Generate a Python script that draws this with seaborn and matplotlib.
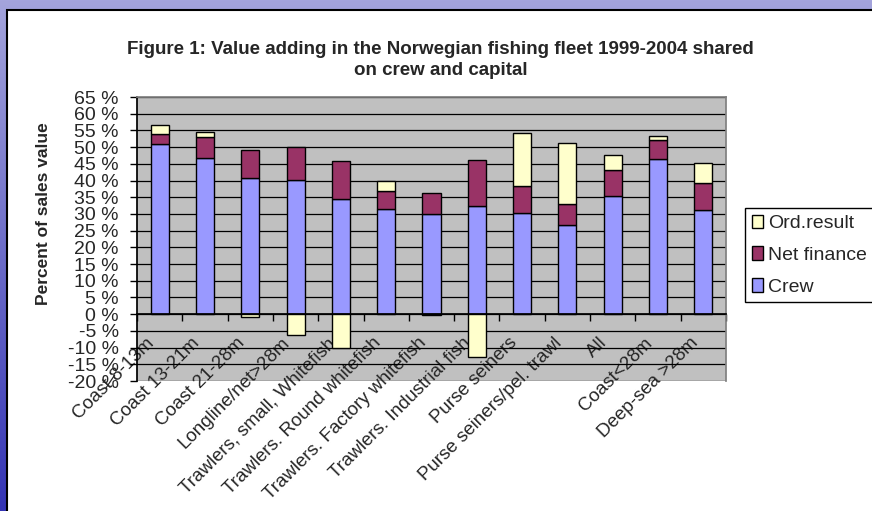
import numpy as np
import pandas as pd
import matplotlib
matplotlib.use("Agg")
import matplotlib.pyplot as plt
from matplotlib.patches import Rectangle, Patch
from matplotlib.colors import LinearSegmentedColormap
from matplotlib.transforms import ScaledTranslation
import seaborn as sns

categories = ["Coast 8-13m", "Coast 13-21m", "Coast 21-28m", "Longline/net>28m",
              "Trawlers, small, Whitefish", "Trawlers. Round whitefish",
              "Trawlers. Factory whitefish", "Trawlers. Industrial fish",
              "Purse seiners", "Purse seiners/pel. trawl", "All", "Coast<28m",
              "Deep-sea >28m"]
crew = [51.0, 46.6, 40.9, 40.1, 34.4, 31.6, 29.9, 32.4, 30.4, 26.6, 35.4, 46.4, 31.1]
net_finance = [3.0, 6.3, 8.2, 9.8, 11.3, 5.3, 6.4, 13.6, 8.1, 6.5, 7.9, 5.7, 8.3]
ord_result = [2.5, 1.7, -0.8, -6.3, -10.1, 3.0, -0.3, -12.8, 15.6, 18.0, 4.2, 1.3, 5.9]
yticks = list(range(-20, 70, 5))

df = pd.DataFrame({"category": categories, "crew": crew,
                   "net": net_finance, "ord": ord_result})
df["net_bottom"] = df["crew"]
df["ord_bottom"] = np.where(df["ord"] >= 0, df["crew"] + df["net"], 0.0)

c_crew = "#9999FF"
c_net = "#993366"
c_ord = "#FFFFCC"

sns.set_theme(style="white")
plt.rcParams["font.family"] = ["Liberation Sans", "DejaVu Sans"]

fig = plt.figure(figsize=(8.72, 5.11), dpi=100)

# slide background + white panel
bg = fig.add_axes([0, 0, 1, 1])
bg.set_zorder(-1)
cmap = LinearSegmentedColormap.from_list("slide", ["#3434b4", "#6c6cc8", "#a4a4dc"])
grad = np.linspace(0, 1, 256).reshape(-1, 1)
bg.imshow(grad, aspect="auto", cmap=cmap, extent=[0, 1, 0, 1], origin="lower")
bg.add_patch(Rectangle((7 / 872, -0.1), 1.1, 1 - 10 / 511 + 0.1, transform=bg.transAxes,
                       facecolor="white", edgecolor="black", lw=1.5))
bg.set_xlim(0, 1)
bg.set_ylim(0, 1)
bg.axis("off")

ax = fig.add_axes([137 / 872, 130 / 511, 589 / 872, 284 / 511])
ax.set_facecolor("#C0C0C0")

w = 0.4
sns.barplot(data=df, x="category", y="crew", color=c_crew, width=w,
            edgecolor="black", linewidth=1, saturation=1, ax=ax)
sns.barplot(data=df, x="category", y="net", bottom=df["net_bottom"].values, color=c_net,
            width=w, edgecolor="black", linewidth=1, saturation=1, ax=ax)
sns.barplot(data=df, x="category", y="ord", bottom=df["ord_bottom"].values, color=c_ord,
            width=w, edgecolor="black", linewidth=1, saturation=1, ax=ax)

ax.set_xlim(-0.5, len(categories) - 0.5)
ax.set_ylim(-20, 65)
ax.set_yticks(yticks)
ax.set_yticklabels([f"{v} %" for v in yticks], fontsize=14)
ax.yaxis.grid(True, color="black", lw=0.9)
ax.set_axisbelow(True)
ax.tick_params(axis="y", direction="out", length=5, width=1, color="black", pad=8, left=True)

ax.spines["bottom"].set_position(("data", 0))
ax.spines["bottom"].set_color("black")
ax.spines["left"].set_color("black")
for s in ["top", "right"]:
    ax.spines[s].set_color("#808080")

ax.set_xticks(np.arange(len(categories)))
ax.set_xticks(np.arange(len(categories) + 1) - 0.5, minor=True)
ax.set_xticklabels(categories, rotation=45, ha="right", va="center",
                   rotation_mode="anchor", fontsize=13.5)
ax.tick_params(axis="x", which="major", length=0, pad=19)
ax.tick_params(axis="x", which="minor", direction="out", length=5, width=1,
               color="black", bottom=True)
shift = ScaledTranslation(-8 / 100, 0, fig.dpi_scale_trans)
for lbl in ax.get_xticklabels():
    lbl.set_transform(lbl.get_transform() + shift)
ax.set_xlabel("")
ax.set_ylabel("Percent of sales value", fontsize=12.5, fontweight="bold")
ax.yaxis.set_label_coords(-0.146, 0.59)

fig.text(0.505, 1 - 60 / 511,
         "Figure 1: Value adding in the Norwegian fishing fleet 1999-2004 shared\non crew and capital",
         ha="center", va="center", fontsize=13.5, fontweight="bold", linespacing=1.25)

handles = [Patch(facecolor=c_ord, edgecolor="black", label="Ord.result"),
           Patch(facecolor=c_net, edgecolor="black", label="Net finance"),
           Patch(facecolor=c_crew, edgecolor="black", label="Crew")]
leg = fig.legend(handles=handles, loc="upper left", bbox_to_anchor=(745 / 872, 1 - 208 / 511),
                 fontsize=14, frameon=True, fancybox=False, framealpha=1, edgecolor="black",
                 handlelength=0.55, handleheight=0.7, handletextpad=0.3, labelspacing=0.72,
                 borderpad=0.35, borderaxespad=0)
leg.get_frame().set_linewidth(1)

fig.savefig("out.png", dpi=100)
